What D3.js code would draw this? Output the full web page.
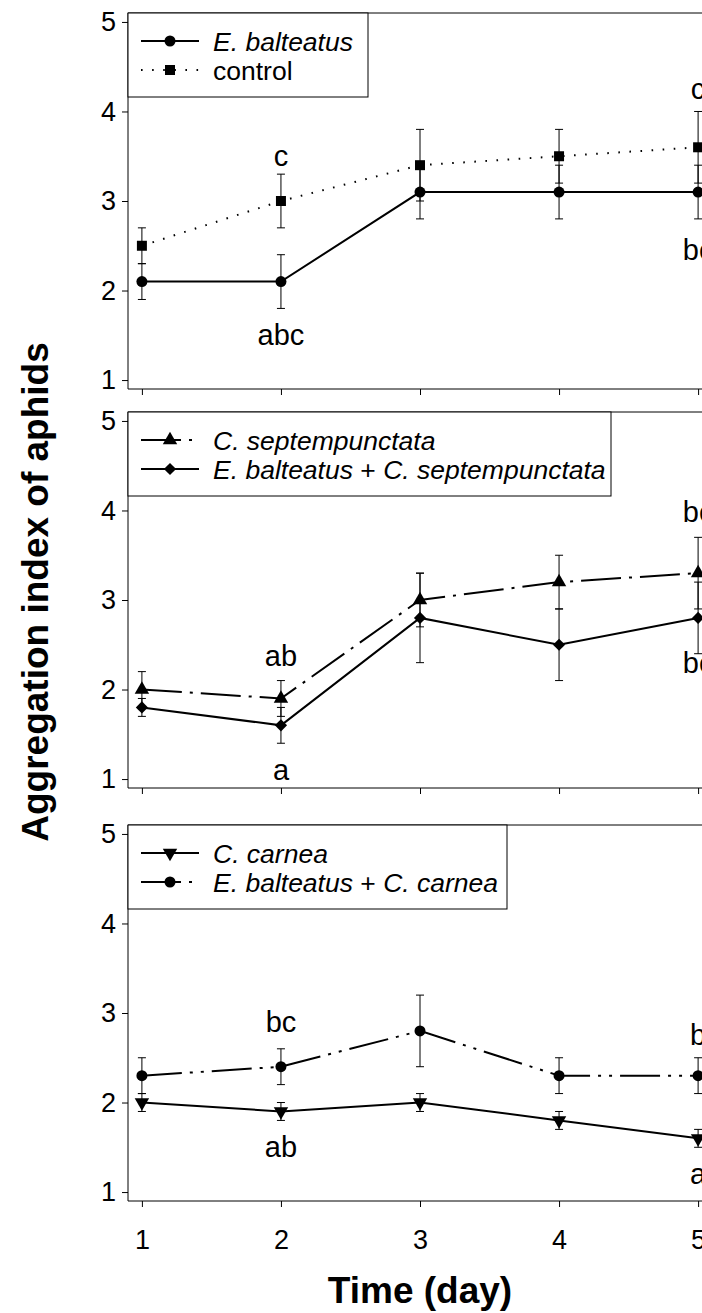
<!DOCTYPE html>
<html>
<head>
<meta charset="utf-8">
<script src="https://cdn.jsdelivr.net/npm/d3@7"></script>
<style>
  html, body { margin: 0; padding: 0; background: #fff; }
  svg { display: block; font-family: "Liberation Sans", Arial, sans-serif; }
</style>
</head>
<body>
<svg id="chart" width="702" height="1313"></svg>
<script>
// Sampling days
const days = [1, 2, 3, 4, 5];
const yTicks = [1, 2, 3, 4, 5];

// Panel A: E. balteatus vs control (mean, SE)
const ebMean   = [2.1, 2.1, 3.1, 3.1, 3.1];
const ebErr    = [0.2, 0.3, 0.3, 0.3, 0.3];
const ctrlMean = [2.5, 3.0, 3.4, 3.5, 3.6];
const ctrlErr  = [0.2, 0.3, 0.4, 0.3, 0.4];

// Panel B: C. septempunctata alone and combined with E. balteatus
const csMean   = [2.0, 1.9, 3.0, 3.2, 3.3];
const csErr    = [0.2, 0.2, 0.3, 0.3, 0.4];
const ebcsMean = [1.8, 1.6, 2.8, 2.5, 2.8];
const ebcsErr  = [0.1, 0.2, 0.5, 0.4, 0.4];

// Panel C: C. carnea alone and combined with E. balteatus
const ccMean   = [2.0, 1.9, 2.0, 1.8, 1.6];
const ccErr    = [0.1, 0.1, 0.1, 0.1, 0.1];
const ebccMean = [2.3, 2.4, 2.8, 2.3, 2.3];
const ebccErr  = [0.2, 0.2, 0.4, 0.2, 0.2];

// Significance letters (day, level on the y scale, text)
const lettersA = [
  {day: 2, value: 3.5,  text: "c"},
  {day: 2, value: 1.5,  text: "abc"},
  {day: 5, value: 4.25, text: "c"},
  {day: 5, value: 2.45, text: "bc"}
];
const lettersB = [
  {day: 2, value: 2.38, text: "ab"},
  {day: 2, value: 1.1,  text: "a"},
  {day: 5, value: 3.98, text: "bc"},
  {day: 5, value: 2.3,  text: "bc"}
];
const lettersC = [
  {day: 2, value: 2.9,  text: "bc"},
  {day: 2, value: 1.5,  text: "ab"},
  {day: 5, value: 2.75, text: "b"},
  {day: 5, value: 1.2,  text: "a"}
];

const svg = d3.select("#chart");
const left = 128, right = 712;
const x = d3.scaleLinear().domain([0.9, 5.1]).range([left, right]);

const dashes = {
  solid: null,
  dotted: "1.6,9.5",
  dashDot: "40,8,3,8",
  dashDotDot: "40,8,3,8,3,8"
};

const symbols = {
  circle: d3.symbol().type(d3.symbolCircle).size(95),
  square: d3.symbol().type(d3.symbolSquare).size(100),
  triangle: d3.symbol().type(d3.symbolTriangle).size(90),
  diamond: d3.symbol().type(d3.symbolDiamond2).size(95)
};

function markerPath(kind) {
  if (kind === "triDown") return symbols.triangle();
  return symbols[kind]();
}
function markerTransform(kind, px, py) {
  return kind === "triDown" ? `translate(${px},${py}) rotate(180)` : `translate(${px},${py})`;
}

const panels = [
  {
    top: 13, bottom: 389,
    series: [
      {italic: [["E. balteatus", true]], mean: ebMean, err: ebErr, dash: "solid", marker: "circle"},
      {italic: [["control", false]], mean: ctrlMean, err: ctrlErr, dash: "dotted", marker: "square"}
    ],
    legendW: 240, letters: lettersA, xLabels: false
  },
  {
    top: 412, bottom: 788,
    series: [
      {italic: [["C. septempunctata", true]], mean: csMean, err: csErr, dash: "dashDot", marker: "triangle"},
      {italic: [["E. balteatus", true], [" + ", false], ["C. septempunctata", true]], mean: ebcsMean, err: ebcsErr, dash: "solid", marker: "diamond"}
    ],
    legendW: 483, letters: lettersB, xLabels: false
  },
  {
    top: 825, bottom: 1201,
    series: [
      {italic: [["C. carnea", true]], mean: ccMean, err: ccErr, dash: "solid", marker: "triDown"},
      {italic: [["E. balteatus", true], [" + ", false], ["C. carnea", true]], mean: ebccMean, err: ebccErr, dash: "dashDotDot", marker: "circle"}
    ],
    legendW: 379, letters: lettersC, xLabels: true
  }
];

panels.forEach(p => {
  const y = d3.scaleLinear().domain([0.9, 5.1]).range([p.bottom, p.top]);
  const g = svg.append("g");

  // frame: left axis, bottom axis, top edge
  const yAxis = d3.axisLeft(y).tickValues(yTicks).tickSize(6).tickPadding(6).tickFormat(d3.format("d"));
  const ya = g.append("g").attr("transform", `translate(${left},0)`).call(yAxis);
  ya.select(".domain").attr("d", `M0,${p.bottom}V${p.top}`);
  ya.selectAll("text").attr("font-size", 27).attr("fill", "#000")
    .attr("font-family", "Liberation Sans, Arial, sans-serif");

  const xAxis = d3.axisBottom(x).tickValues(days).tickSize(6).tickPadding(23).tickFormat(d3.format("d"));
  const xa = g.append("g").attr("transform", `translate(0,${p.bottom})`).call(xAxis);
  xa.select(".domain").attr("d", `M${left},0H${right}`);
  xa.selectAll("text").attr("font-size", 27).attr("fill", "#000")
    .attr("font-family", "Liberation Sans, Arial, sans-serif")
    .style("display", p.xLabels ? null : "none");

  g.append("line").attr("x1", left).attr("x2", right).attr("y1", p.top).attr("y2", p.top)
    .attr("stroke", "#000").attr("stroke-width", 1);

  // error bars
  p.series.forEach(s => {
    const eb = g.append("g").attr("stroke", "#000").attr("stroke-width", 1);
    days.forEach((d, i) => {
      const x0 = x(d), lo = y(s.mean[i] - s.err[i]), hi = y(s.mean[i] + s.err[i]);
      eb.append("line").attr("x1", x0).attr("x2", x0).attr("y1", lo).attr("y2", hi);
      eb.append("line").attr("x1", x0 - 4).attr("x2", x0 + 4).attr("y1", lo).attr("y2", lo);
      eb.append("line").attr("x1", x0 - 4).attr("x2", x0 + 4).attr("y1", hi).attr("y2", hi);
    });
  });

  // lines and markers
  p.series.forEach(s => {
    const line = d3.line().x(d => x(d)).y((d, i) => y(s.mean[i]));
    g.append("path").attr("d", line(days)).attr("fill", "none")
      .attr("stroke", "#000").attr("stroke-width", 2)
      .attr("stroke-dasharray", dashes[s.dash]);
    days.forEach((d, i) => {
      g.append("path").attr("d", markerPath(s.marker))
        .attr("transform", markerTransform(s.marker, x(d), y(s.mean[i])))
        .attr("fill", "#000");
    });
  });

  // significance letters
  p.letters.forEach(l => {
    g.append("text").attr("x", x(l.day)).attr("y", y(l.value))
      .attr("text-anchor", "middle").attr("dominant-baseline", "central")
      .attr("font-size", 29).attr("fill", "#000").text(l.text);
  });

  // legend
  const lg = g.append("g");
  lg.append("rect").attr("x", left).attr("y", p.top).attr("width", p.legendW).attr("height", 84)
    .attr("fill", "#fff").attr("stroke", "#000").attr("stroke-width", 1);
  p.series.forEach((s, k) => {
    const ly = p.top + 28 + k * 29;
    lg.append("line").attr("x1", 141).attr("x2", 199).attr("y1", ly).attr("y2", ly)
      .attr("stroke", "#000").attr("stroke-width", 2).attr("stroke-dasharray", dashes[s.dash]);
    lg.append("path").attr("d", markerPath(s.marker))
      .attr("transform", markerTransform(s.marker, 170, ly)).attr("fill", "#000");
    const t = lg.append("text").attr("x", 213).attr("y", ly + 1).attr("dominant-baseline", "central")
      .attr("font-size", 26.5).attr("fill", "#000");
    s.italic.forEach(([txt, it]) => {
      t.append("tspan").attr("font-style", it ? "italic" : "normal").text(txt);
    });
  });
});

// axis titles
svg.append("text")
  .attr("transform", "translate(35,592) rotate(-90)")
  .attr("text-anchor", "middle").attr("dominant-baseline", "central")
  .attr("font-size", 37).attr("font-weight", "bold").attr("fill", "#000")
  .text("Aggregation index of aphids");

svg.append("text")
  .attr("x", 420).attr("y", 1290)
  .attr("text-anchor", "middle").attr("dominant-baseline", "central")
  .attr("font-size", 37).attr("font-weight", "bold").attr("fill", "#000")
  .text("Time (day)");
</script>
</body>
</html>
